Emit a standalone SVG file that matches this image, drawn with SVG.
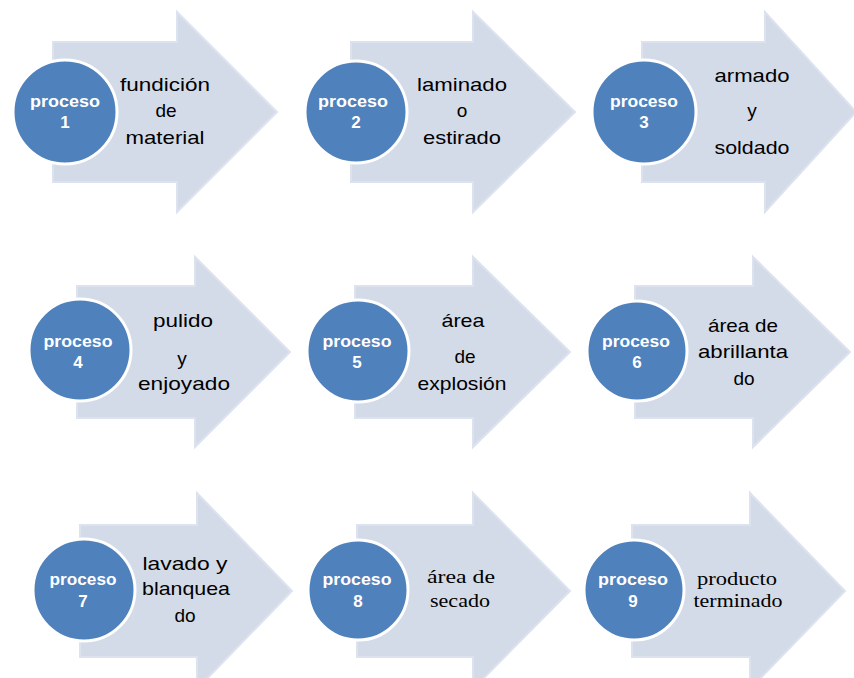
<svg xmlns="http://www.w3.org/2000/svg" width="854" height="678" viewBox="0 0 854 678">
<style>
.arrow{fill:#d4dbe8;stroke:#dde3ee;stroke-width:2;stroke-linejoin:miter}
.circ{fill:#4f81bd;stroke:#ffffff;stroke-width:3}
.ct{font-family:"Liberation Sans",Arial,sans-serif;font-weight:bold;font-size:17px;fill:#ffffff;text-anchor:middle}
.at{font-family:"Liberation Sans",Arial,sans-serif;font-size:19px;fill:#000000;text-anchor:middle}
.as{font-family:"Liberation Serif","Times New Roman",serif;font-size:18px;fill:#000000;text-anchor:middle}
</style>
<rect width="854" height="678" fill="#ffffff"/>
<g id="connectors"/>

<g id="node1">
<polygon class="arrow" points="53,42 177,42 177,12 277,112 177,212 177,182 53,182"/>
<circle class="circ" cx="65" cy="112" r="52"/>
<text class="ct" x="65" y="107" textLength="70" lengthAdjust="spacingAndGlyphs">proceso</text>
<text class="ct" x="65" y="128">1</text>
<text class="at" x="165" y="91" textLength="90" lengthAdjust="spacingAndGlyphs">fundición</text>
<text class="at" x="166" y="117">de</text>
<text class="at" x="165" y="144" textLength="79" lengthAdjust="spacingAndGlyphs">material</text>
</g>

<g id="node2">
<polygon class="arrow" points="351,42 473,42 473,12 575,112 473,212 473,182 351,182"/>
<circle class="circ" cx="356" cy="112" r="51"/>
<text class="ct" x="353" y="107" textLength="70" lengthAdjust="spacingAndGlyphs">proceso</text>
<text class="ct" x="356" y="128">2</text>
<text class="at" x="462" y="91" textLength="90" lengthAdjust="spacingAndGlyphs">laminado</text>
<text class="at" x="462" y="117">o</text>
<text class="at" x="462" y="144" textLength="78" lengthAdjust="spacingAndGlyphs">estirado</text>
</g>

<g id="node3">
<polygon class="arrow" points="642,42 765,42 765,12 856,112 765,212 765,182 642,182"/>
<circle class="circ" cx="644" cy="112" r="52"/>
<text class="ct" x="644" y="107" textLength="68" lengthAdjust="spacingAndGlyphs">proceso</text>
<text class="ct" x="644" y="128">3</text>
<text class="at" x="752" y="82" textLength="75" lengthAdjust="spacingAndGlyphs">armado</text>
<text class="at" x="752" y="117">y</text>
<text class="at" x="752" y="154" textLength="75" lengthAdjust="spacingAndGlyphs">soldado</text>
</g>

<g id="node4">
<polygon class="arrow" points="77,286 195,286 195,257 290,352 195,447 195,418 77,418"/>
<circle class="circ" cx="80" cy="350" r="51"/>
<text class="ct" x="78" y="347" textLength="69" lengthAdjust="spacingAndGlyphs">proceso</text>
<text class="ct" x="78" y="368">4</text>
<text class="at" x="183" y="327" textLength="60" lengthAdjust="spacingAndGlyphs">pulido</text>
<text class="at" x="182" y="365">y</text>
<text class="at" x="184" y="390" textLength="92" lengthAdjust="spacingAndGlyphs">enjoyado</text>
</g>

<g id="node5">
<polygon class="arrow" points="355,286 473,286 473,257 570,352 473,447 473,418 355,418"/>
<circle class="circ" cx="358" cy="351" r="51"/>
<text class="ct" x="357" y="347" textLength="69" lengthAdjust="spacingAndGlyphs">proceso</text>
<text class="ct" x="357" y="368">5</text>
<text class="at" x="463" y="327" textLength="43" lengthAdjust="spacingAndGlyphs">área</text>
<text class="at" x="465" y="363">de</text>
<text class="at" x="462" y="390" textLength="89" lengthAdjust="spacingAndGlyphs">explosión</text>
</g>

<g id="node6">
<polygon class="arrow" points="635,286 753,286 753,257 850,352 753,447 753,418 635,418"/>
<circle class="circ" cx="637" cy="351" r="50"/>
<text class="ct" x="636" y="347" textLength="68" lengthAdjust="spacingAndGlyphs">proceso</text>
<text class="ct" x="637" y="368">6</text>
<text class="at" x="743" y="332" textLength="70" lengthAdjust="spacingAndGlyphs">área de</text>
<text class="at" x="743" y="358" textLength="90" lengthAdjust="spacingAndGlyphs">abrillanta</text>
<text class="at" x="744" y="385">do</text>
</g>

<g id="node7">
<polygon class="arrow" points="80,525 197,525 197,493 292,591 197,689 197,657 80,657"/>
<circle class="circ" cx="84" cy="590" r="51"/>
<text class="ct" x="83" y="585" textLength="67" lengthAdjust="spacingAndGlyphs">proceso</text>
<text class="ct" x="83" y="607">7</text>
<text class="at" x="185" y="570" textLength="85" lengthAdjust="spacingAndGlyphs">lavado y</text>
<text class="at" x="186" y="595" textLength="88" lengthAdjust="spacingAndGlyphs">blanquea</text>
<text class="at" x="185" y="622">do</text>
</g>

<g id="node8">
<polygon class="arrow" points="357,525 473,525 473,493 570,591 473,689 473,657 357,657"/>
<circle class="circ" cx="358" cy="590" r="50"/>
<text class="ct" x="357" y="585" textLength="69" lengthAdjust="spacingAndGlyphs">proceso</text>
<text class="ct" x="358" y="607">8</text>
<text class="as" x="461" y="583" textLength="68" lengthAdjust="spacingAndGlyphs">área de</text>
<text class="as" x="460" y="607" textLength="60" lengthAdjust="spacingAndGlyphs">secado</text>
</g>

<g id="node9">
<polygon class="arrow" points="632,525 750,525 750,493 845,591 750,689 750,657 632,657"/>
<circle class="circ" cx="634" cy="590" r="50"/>
<text class="ct" x="633" y="585" textLength="70" lengthAdjust="spacingAndGlyphs">proceso</text>
<text class="ct" x="633" y="607">9</text>
<text class="as" x="737" y="585" textLength="80" lengthAdjust="spacingAndGlyphs">producto</text>
<text class="as" x="738" y="607" textLength="89" lengthAdjust="spacingAndGlyphs">terminado</text>
</g>
</svg>
